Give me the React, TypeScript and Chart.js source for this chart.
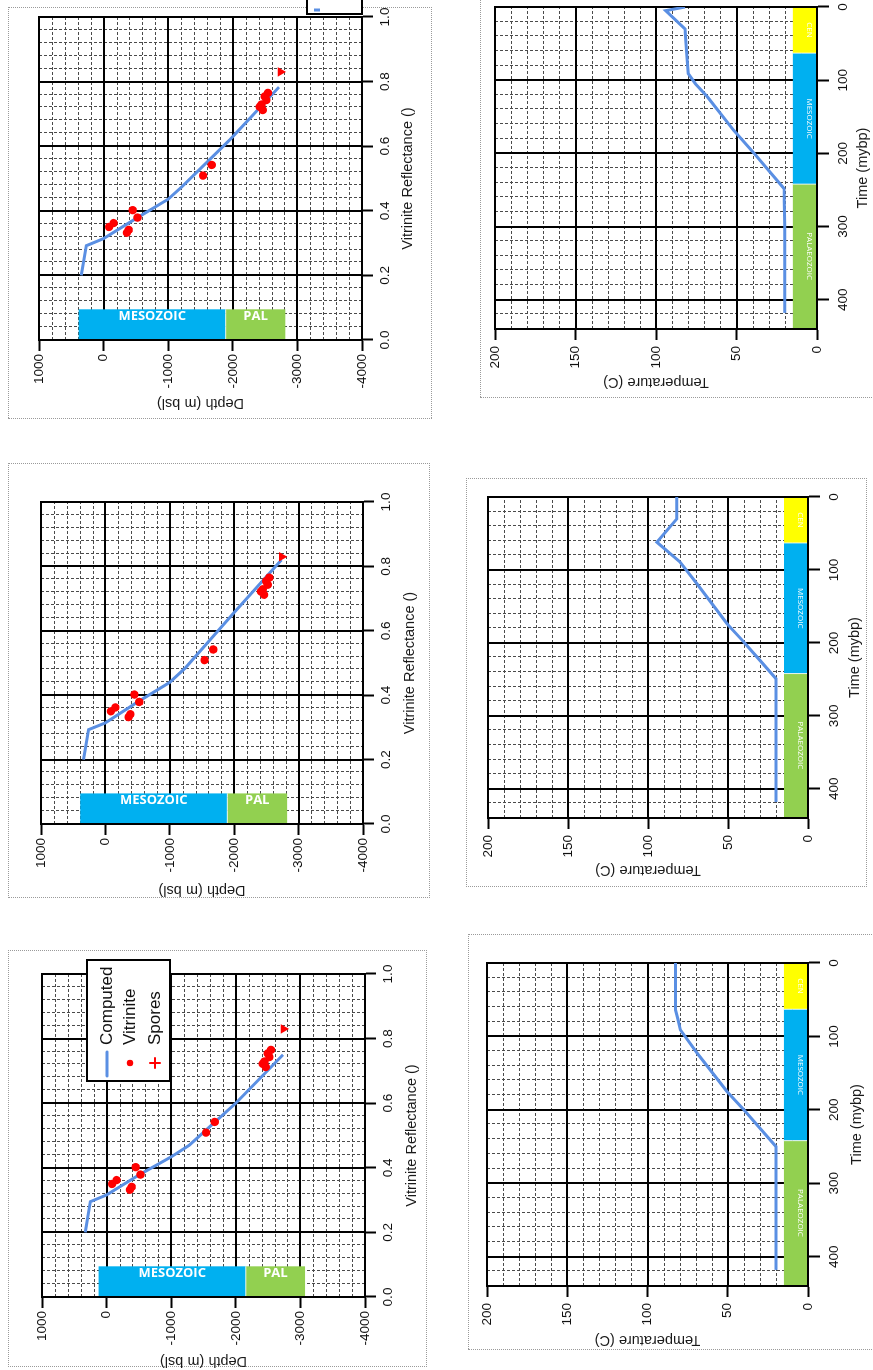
import React, { useEffect, useRef } from "react";
import { Chart, registerables } from "chart.js";
Chart.register(...registerables);

// ---------------- data ----------------
// Measured vitrinite reflectance (same well data in the three depth panels)
const vitriniteRo = [0.35, 0.362, 0.332, 0.341, 0.402, 0.379, 0.509, 0.542, 0.722, 0.712, 0.729, 0.743, 0.765, 0.754];
const vitriniteDepth = [-85, -155, -360, -388, -450, -525, -1540, -1675, -2415, -2465, -2445, -2520, -2545, -2495];
const sporesRo = [0.83];
const sporesDepth = [-2740];

// Computed reflectance curves
const computedRoA = [0.2, 0.295, 0.316, 0.378, 0.434, 0.47, 0.6, 0.75];
const computedDepthA = [330, 253, 0, -500, -1000, -1280, -2000, -2730];
const computedRoB = [0.2, 0.293, 0.314, 0.379, 0.44, 0.484, 0.655, 0.82];
const computedDepthB = [339, 261, 0, -500, -1000, -1237, -1990, -2734];
const computedRoC = [0.2, 0.292, 0.314, 0.376, 0.436, 0.474, 0.62, 0.783];
const computedDepthC = [345, 267, 0, -500, -1000, -1210, -1955, -2715];

// Stratigraphic column on the depth panels
const depthStratNames = ["MESOZOIC", "PAL"];
const depthStratColors = ["#00B0F0", "#92D050"];
const depthStratA = [124, -2155, -3072];
const depthStratB = [391, -1893, -2822];
const depthStratC = [386, -1890, -2813];

// Temperature histories
const timeD = [418, 400, 300, 248, 200, 168, 123, 105, 91, 60, 30, 5, 0];
const tempD = [20, 20, 20, 20.5, 39, 52, 68, 75.5, 80, 81, 82, 94, 82];
const timeE = [418, 400, 300, 249, 224, 199, 174, 119, 89, 62, 30, 0];
const tempE = [20, 20, 20, 20, 30, 40, 50.5, 69.4, 80, 94.4, 82, 82];
const timeF = [418, 400, 300, 250, 200, 175, 123, 91, 77, 64, 30, 0];
const tempF = [20, 20, 20, 20, 40, 50.5, 69, 79.5, 81, 82.5, 82.5, 82.5];

// Stratigraphic column on the time panels
const timeStratNames = ["CEN", "MESOZOIC", "PALAEOZOIC"];
const timeStratColors = ["#FFFF00", "#00B0F0", "#92D050"];
const timeStratBounds = [0, 63, 242, 439];

// ---------------- style ----------------
const FONT = "'Liberation Sans', Arial, Helvetica, sans-serif";
const BLUE = "#5A8FE3";
const RED = "#FF0000";
const PAGE_W = 1370;
const PAGE_H = 873;

function steps(min: number, max: number, step: number) {
  const n = Math.round((max - min) / step);
  const out: number[] = [];
  for (let i = 0; i <= n; i++) out.push(+(min + i * step).toFixed(6));
  return out;
}
const onMajor = (v: number, m: number) => Math.abs(v / m - Math.round(v / m)) < 1e-6;

const paperPlugin = {
  id: "paper",
  beforeDatasetsDraw(chart: any, _a: any, o: any) {
    const { ctx, chartArea: a } = chart;
    const xs = chart.scales.x;
    const ys = chart.scales.y;
    const px = (v: number) => xs.getPixelForValue(v);
    const py = (v: number) => ys.getPixelForValue(v);
    ctx.save();
    // minor dashed grid
    ctx.lineWidth = 1;
    ctx.strokeStyle = "#4a4a4a";
    ctx.setLineDash([3, 2]);
    ctx.beginPath();
    for (const v of steps(o.x.min, o.x.max, o.x.minor)) {
      if (onMajor(v, o.x.major)) continue;
      const X = Math.round(px(v)) + 0.5;
      ctx.moveTo(X, a.top);
      ctx.lineTo(X, a.bottom);
    }
    for (const v of steps(o.y.min, o.y.max, o.y.minor)) {
      if (onMajor(v, o.y.major)) continue;
      const Y = Math.round(py(v)) + 0.5;
      ctx.moveTo(a.left, Y);
      ctx.lineTo(a.right, Y);
    }
    ctx.stroke();
    // major grid
    ctx.setLineDash([]);
    ctx.lineWidth = 2;
    ctx.strokeStyle = "#000";
    ctx.beginPath();
    for (const v of steps(o.x.min, o.x.max, o.x.minor)) {
      if (!onMajor(v, o.x.major)) continue;
      const X = Math.round(px(v));
      ctx.moveTo(X, a.top);
      ctx.lineTo(X, a.bottom);
    }
    for (const v of steps(o.y.min, o.y.max, o.y.minor)) {
      if (!onMajor(v, o.y.major)) continue;
      const Y = Math.round(py(v));
      ctx.moveTo(a.left, Y);
      ctx.lineTo(a.right, Y);
    }
    ctx.stroke();
    // stratigraphic bars
    const s = o.strat;
    for (let i = 0; i < s.names.length; i++) {
      let x0, x1, y0, y1, lx, ly;
      if (s.along === "y") {
        x0 = px(s.band[0]); x1 = px(s.band[1]);
        y0 = py(s.bounds[i]); y1 = py(s.bounds[i + 1]);
        lx = px(s.labelAt); ly = (y0 + y1) / 2;
      } else {
        x0 = px(s.bounds[i]); x1 = px(s.bounds[i + 1]);
        y0 = py(s.band[0]); y1 = py(s.band[1]);
        lx = (x0 + x1) / 2; ly = py(s.labelAt);
      }
      ctx.fillStyle = s.colors[i];
      ctx.fillRect(Math.min(x0, x1), Math.min(y0, y1), Math.abs(x1 - x0), Math.abs(y1 - y0));
      if (i > 0) {
        ctx.strokeStyle = "rgba(255,255,255,0.8)";
        ctx.lineWidth = 1;
        ctx.beginPath();
        if (s.along === "y") { ctx.moveTo(x0, y0); ctx.lineTo(x1, y0); }
        else { ctx.moveTo(x0, y0); ctx.lineTo(x0, y1); }
        ctx.stroke();
      }
      ctx.save();
      ctx.translate(lx, ly);
      ctx.rotate(s.rotation);
      ctx.fillStyle = "#fff";
      ctx.font = s.font;
      ctx.textAlign = "center";
      ctx.textBaseline = "middle";
      ctx.fillText(s.names[i], 0, 0);
      ctx.restore();
    }
    // frame
    ctx.strokeStyle = "#000";
    ctx.lineWidth = 2;
    ctx.strokeRect(a.left, a.top, a.right - a.left, a.bottom - a.top);
    ctx.restore();
  },
  afterDatasetsDraw(chart: any, _a: any, o: any) {
    const lg = o.legend;
    if (!lg) return;
    const { ctx, chartArea: a } = chart;
    const bx = lg.fromRight ? a.right + lg.dx : a.left + lg.dx;
    const by = a.top + lg.dy;
    ctx.save();
    ctx.fillStyle = "#fff";
    ctx.fillRect(bx, by, lg.w, lg.h);
    ctx.strokeStyle = "#000";
    ctx.lineWidth = 2;
    ctx.strokeRect(bx, by, lg.w, lg.h);
    for (const it of lg.items) {
      const ds = chart.data.datasets[it.ds];
      const color = ds.borderColor;
      const cy = by + it.dy;
      ctx.strokeStyle = color;
      ctx.fillStyle = color;
      if (it.kind === "line") {
        ctx.lineWidth = 3;
        ctx.lineCap = "round";
        ctx.beginPath();
        ctx.moveTo(bx + 5, cy);
        ctx.lineTo(bx + 29, cy);
        ctx.stroke();
      } else if (it.kind === "dot") {
        ctx.beginPath();
        ctx.arc(bx + 18, cy, 3.2, 0, Math.PI * 2);
        ctx.fill();
      } else if (it.kind === "plus") {
        ctx.lineWidth = 2;
        ctx.beginPath();
        ctx.moveTo(bx + 13, cy); ctx.lineTo(bx + 23, cy);
        ctx.moveTo(bx + 18, cy - 5); ctx.lineTo(bx + 18, cy + 5);
        ctx.stroke();
      } else if (it.kind === "vdash") {
        ctx.lineWidth = 3;
        ctx.beginPath();
        ctx.moveTo(bx + 4, by + 7);
        ctx.lineTo(bx + 4, by + 13);
        ctx.stroke();
      }
      if (it.text !== false) {
        ctx.fillStyle = "#111";
        ctx.font = `17px ${FONT}`;
        ctx.textAlign = "left";
        ctx.textBaseline = "middle";
        ctx.fillText(ds.label, bx + 36, cy);
      }
    }
    ctx.restore();
  },
};

type Rect = { l: number; t: number; r: number; b: number };
function layoutFor(P: Rect, yTitleDist: number, xTitleDist: number) {
  const ML = Math.round(yTitleDist + 8.7);
  const MB = Math.round(xTitleDist + 8.7);
  const MT = 15;
  const MR = 20;
  return { ML, MB, MT, MR, x: P.l - ML, y: P.t - MT, w: ML + (P.r - P.l) + MR, h: MT + (P.b - P.t) + MB };
}

const tickFont = { family: FONT, size: 13.5 };
const titleFont = { family: FONT, size: 14.5 };

function axisBase(L: any, horizontal: boolean, tickLength: number, padding: number, title: string) {
  return {
    type: "linear",
    afterFit: (s: any) => {
      if (horizontal) s.height = L.MB;
      else s.width = L.ML;
    },
    grid: { display: true, drawOnChartArea: false, drawTicks: true, tickLength, tickWidth: 2, tickColor: "#000" },
    border: { display: true, color: "#000", width: 2 },
    title: { display: true, text: title, font: titleFont, color: "#1a1a1a", padding: 0 },
    ticksBase: { font: tickFont, color: "#111", padding },
  };
}

function vitriniteConfig(L: any, ro: number[], depth: number[], bounds: number[], legend: any) {
  const xa: any = axisBase(L, true, 11, 4, "Vitrinite Reflectance ()");
  const ya: any = axisBase(L, false, 11, 3, "Depth (m bsl)");
  return {
    type: "scatter",
    data: {
      datasets: [
        {
          label: "Computed",
          data: ro.map((x, i) => ({ x, y: depth[i] })),
          showLine: true,
          borderColor: BLUE,
          backgroundColor: BLUE,
          borderWidth: 3,
          pointRadius: 0,
          order: 2,
        },
        {
          label: "Vitrinite",
          data: vitriniteRo.map((x, i) => ({ x, y: vitriniteDepth[i] })),
          pointRadius: 4.2,
          backgroundColor: RED,
          borderColor: RED,
          borderWidth: 0,
          order: 1,
        },
        {
          label: "Spores",
          data: sporesRo.map((x, i) => ({ x, y: sporesDepth[i] })),
          pointStyle: "triangle",
          rotation: 180,
          pointRadius: 5.5,
          backgroundColor: RED,
          borderColor: RED,
          borderWidth: 0,
          order: 0,
        },
      ],
    },
    options: {
      animation: false,
      responsive: false,
      maintainAspectRatio: false,
      devicePixelRatio: 1,
      layout: { padding: { top: L.MT, right: L.MR, left: 0, bottom: 0 } },
      plugins: {
        legend: { display: false },
        tooltip: { enabled: false },
        paper: {
          x: { min: 0, max: 1, minor: 0.04, major: 0.2 },
          y: { min: -4000, max: 1000, minor: 200, major: 1000 },
          strat: {
            along: "y",
            bounds,
            names: depthStratNames,
            colors: depthStratColors,
            band: [0, 0.095],
            labelAt: 0.073,
            rotation: Math.PI / 2,
            font: `bold 13px 'Open Sans', ${FONT}`,
          },
          legend,
        },
      },
      scales: {
        x: {
          ...xa,
          position: "bottom",
          min: 0,
          max: 1,
          ticks: { ...xa.ticksBase, stepSize: 0.2, callback: (v: any) => Number(v).toFixed(1) },
        },
        y: {
          ...ya,
          position: "left",
          min: -4000,
          max: 1000,
          ticks: { ...ya.ticksBase, stepSize: 1000, callback: (v: any) => String(Math.round(Number(v))) },
        },
      },
    },
    plugins: [paperPlugin],
  };
}

function temperatureConfig(L: any, time: number[], temp: number[]) {
  const xa: any = axisBase(L, true, 12, 6, "Time (mybp)");
  const ya: any = axisBase(L, false, 11, 6, "Temperature (C)");
  return {
    type: "scatter",
    data: {
      datasets: [
        {
          label: "Temperature",
          data: time.map((x, i) => ({ x, y: temp[i] })),
          showLine: true,
          borderColor: BLUE,
          backgroundColor: BLUE,
          borderWidth: 3,
          pointRadius: 0,
        },
      ],
    },
    options: {
      animation: false,
      responsive: false,
      maintainAspectRatio: false,
      devicePixelRatio: 1,
      layout: { padding: { top: L.MT, right: L.MR, left: 0, bottom: 0 } },
      plugins: {
        legend: { display: false },
        tooltip: { enabled: false },
        paper: {
          x: { min: 0, max: 440, minor: 20, major: 100 },
          y: { min: 0, max: 200, minor: 10, major: 50 },
          strat: {
            along: "x",
            bounds: timeStratBounds,
            names: timeStratNames,
            colors: timeStratColors,
            band: [0, 15],
            labelAt: 4.7,
            rotation: Math.PI,
            font: `8px 'Open Sans', ${FONT}`,
          },
        },
      },
      scales: {
        x: {
          ...xa,
          position: "bottom",
          min: 0,
          max: 440,
          reverse: true,
          ticks: { ...xa.ticksBase, stepSize: 100, includeBounds: false, callback: (v: any) => String(v) },
        },
        y: {
          ...ya,
          position: "left",
          min: 0,
          max: 200,
          ticks: { ...ya.ticksBase, stepSize: 50, callback: (v: any) => String(v) },
        },
      },
    },
    plugins: [paperPlugin],
  };
}

function ChartCanvas({ L, build }: { L: any; build: () => any }) {
  const ref = useRef<HTMLCanvasElement>(null);
  useEffect(() => {
    const chart = new Chart(ref.current as HTMLCanvasElement, build() as any);
    return () => chart.destroy();
  }, []);
  return (
    <canvas
      ref={ref}
      width={L.w}
      height={L.h}
      style={{ position: "absolute", left: L.x, top: L.y, width: L.w, height: L.h }}
    />
  );
}

// plot rectangles on the (unrotated) page
const LA = layoutFor({ l: 73, t: 42, r: 396, b: 365 }, 64, 47);
const LB = layoutFor({ l: 546, t: 41, r: 868, b: 363 }, 66, 47);
const LC = layoutFor({ l: 1030, t: 39, r: 1353, b: 362 }, 63, 46);
const LF = layoutFor({ l: 84, t: 487, r: 407, b: 808 }, 54, 49);
const LE = layoutFor({ l: 552, t: 488, r: 873, b: 808 }, 52, 47);
const LD = layoutFor({ l: 1041, t: 495, r: 1363, b: 817 }, 53, 46);

const legendA = {
  dx: 216,
  dy: 45,
  w: 121,
  h: 83,
  items: [
    { ds: 0, kind: "line", dy: 20 },
    { ds: 1, kind: "dot", dy: 43 },
    { ds: 2, kind: "plus", dy: 68 },
  ],
};
const legendC = { fromRight: true, dx: 3, dy: 268, w: 60, h: 55, items: [{ ds: 0, kind: "vdash", dy: 10, text: false }] };

const frames = [
  { x: 3, y: 8, w: 417, h: 419 },
  { x: 472, y: 8, w: 435, h: 422 },
  { x: 951, y: 8, w: 412, h: 424 },
  { x: 20, y: 468, w: 416, h: 420 },
  { x: 483, y: 466, w: 409, h: 401 },
  { x: 972, y: 480, w: 420, h: 420 },
];

export default function App() {
  return (
    <div
      style={{
        position: "fixed",
        left: 0,
        top: 0,
        width: PAGE_W,
        height: PAGE_H,
        transformOrigin: "0 0",
        transform: `translateY(${PAGE_W}px) rotate(-90deg)`,
        overflow: "hidden",
        background: "#fff",
      }}
    >
      {frames.map((f, i) => (
        <div
          key={i}
          style={{
            position: "absolute",
            left: f.x,
            top: f.y,
            width: f.w,
            height: f.h,
            border: "1px dotted #9a9a9a",
            boxSizing: "border-box",
          }}
        />
      ))}
      <ChartCanvas L={LA} build={() => vitriniteConfig(LA, computedRoA, computedDepthA, depthStratA, legendA)} />
      <ChartCanvas L={LB} build={() => vitriniteConfig(LB, computedRoB, computedDepthB, depthStratB, null)} />
      <ChartCanvas L={LC} build={() => vitriniteConfig(LC, computedRoC, computedDepthC, depthStratC, legendC)} />
      <ChartCanvas L={LF} build={() => temperatureConfig(LF, timeF, tempF)} />
      <ChartCanvas L={LE} build={() => temperatureConfig(LE, timeE, tempE)} />
      <ChartCanvas L={LD} build={() => temperatureConfig(LD, timeD, tempD)} />
    </div>
  );
}
